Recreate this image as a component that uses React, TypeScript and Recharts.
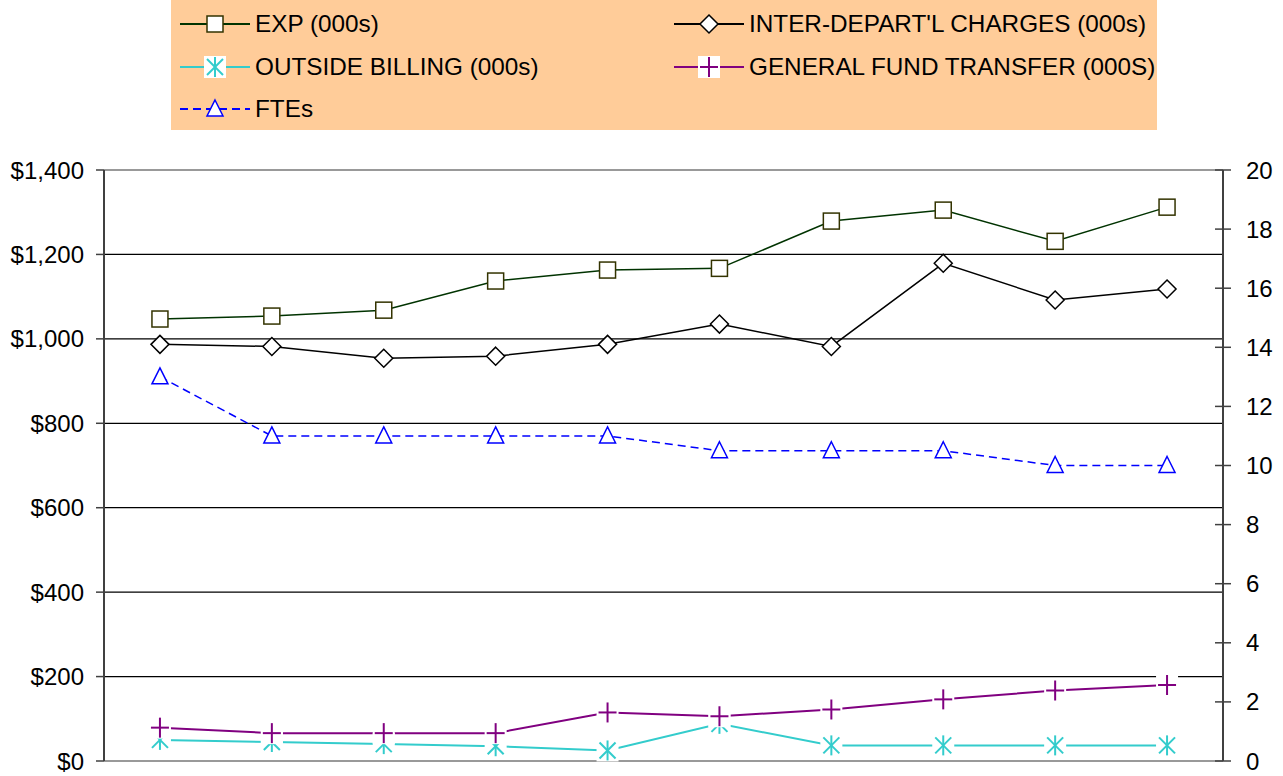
import React from 'react';
import { LineChart, Line, XAxis, YAxis, ReferenceLine } from 'recharts';

const categories = ['1', '2', '3', '4', '5', '6', '7', '8', '9', '10'];
const expValues = [1047, 1054, 1068, 1137, 1163, 1167, 1279, 1305, 1231, 1312];
const interDeptValues = [987, 982, 954, 959, 987, 1035, 982, 1179, 1092, 1118];
const outsideBillingValues = [50, 45, 40, 35, 25, 88, 37, 37, 37, 37];
const generalFundValues = [79, 66, 66, 66, 115, 106, 122, 146, 167, 180];
const fteValues = [13, 11, 11, 11, 11, 10.5, 10.5, 10.5, 10, 10];

const leftTicks = [0, 200, 400, 600, 800, 1000, 1200, 1400];
const rightTicks = [0, 2, 4, 6, 8, 10, 12, 14, 16, 18, 20];
const gridValues = [200, 400, 600, 800, 1000, 1200];

const seriesNames = {
  exp: 'EXP (000s)',
  inter: "INTER-DEPART'L CHARGES (000s)",
  outside: 'OUTSIDE BILLING (000s)',
  general: 'GENERAL FUND TRANSFER (000S)',
  fte: 'FTEs',
};

const data = categories.map((c, i) => ({
  cat: c,
  exp: expValues[i],
  inter: interDeptValues[i],
  outside: outsideBillingValues[i],
  general: generalFundValues[i],
  fte: fteValues[i],
}));

const FONT = '"Liberation Sans", Arial, sans-serif';
const C_EXP_LINE = '#003300';
const C_EXP_MARK = '#333300';
const C_OUT = '#33CCCC';
const C_GEN = '#800080';
const C_FTE = '#0000FF';

const SquareMark = ({ cx, cy }: any) => (
  <rect x={cx - 8} y={cy - 8} width={16} height={16} fill="#fff" stroke={C_EXP_MARK} strokeWidth={1.5} />
);
const DiamondMark = ({ cx, cy }: any) => (
  <path d={`M${cx},${cy - 9} L${cx + 9},${cy} L${cx},${cy + 9} L${cx - 9},${cy} Z`} fill="#fff" stroke="#000" strokeWidth={1.5} />
);
const StarMark = ({ cx, cy }: any) => (
  <g>
    <rect x={cx - 11} y={cy - 11} width={22} height={22} fill="#fff" />
    <line x1={cx} y1={cy - 10} x2={cx} y2={cy + 10} stroke={C_OUT} strokeWidth={2} />
    <line x1={cx - 8} y1={cy - 8} x2={cx + 8} y2={cy + 8} stroke={C_OUT} strokeWidth={2} />
    <line x1={cx - 8} y1={cy + 8} x2={cx + 8} y2={cy - 8} stroke={C_OUT} strokeWidth={2} />
  </g>
);
const PlusMark = ({ cx, cy }: any) => (
  <g>
    <rect x={cx - 11} y={cy - 11} width={22} height={22} fill="#fff" />
    <line x1={cx} y1={cy - 10} x2={cx} y2={cy + 10} stroke={C_GEN} strokeWidth={2} />
    <line x1={cx - 9} y1={cy} x2={cx + 9} y2={cy} stroke={C_GEN} strokeWidth={2} />
  </g>
);
const TriangleMark = ({ cx, cy }: any) => (
  <path d={`M${cx},${cy - 9} L${cx + 8},${cy + 7} L${cx - 8},${cy + 7} Z`} fill="#fff" stroke={C_FTE} strokeWidth={1.5} />
);

const dot = (Comp: any) => (props: any) => {
  const { cx, cy, index } = props;
  if (cx == null || cy == null) return <g key={`d${index}`} />;
  return <g key={`d${index}`}><Comp cx={cx} cy={cy} /></g>;
};

const RightTick = (props: any) => {
  const { x, y, payload } = props;
  const ax = x - 21;
  return (
    <g>
      <line x1={ax - 8} x2={ax + 8} y1={y} y2={y} stroke="#404040" strokeWidth={1.5} />
      <text x={x + 2} y={y} dy="0.355em" textAnchor="start" fontSize={24} fontFamily={FONT} fill="#000">
        {payload.value}
      </text>
    </g>
  );
};

const legendItems = [
  { key: 'exp', col: 0, row: 0, color: C_EXP_LINE, dash: undefined, Mark: SquareMark },
  { key: 'inter', col: 1, row: 0, color: '#000', dash: undefined, Mark: DiamondMark },
  { key: 'outside', col: 0, row: 1, color: C_OUT, dash: undefined, Mark: StarMark },
  { key: 'general', col: 1, row: 1, color: C_GEN, dash: undefined, Mark: PlusMark },
  { key: 'fte', col: 0, row: 2, color: C_FTE, dash: '8 5', Mark: TriangleMark },
];

const LegendBox = () => (
  <div style={{ position: 'absolute', left: 171, top: 0, width: 986, height: 130, background: '#FFCC99', fontFamily: FONT }}>
    {legendItems.map((it) => {
      const left = it.col === 0 ? 9 : 503;
      const top = [24, 67, 109][it.row];
      return (
        <div key={it.key} style={{ position: 'absolute', left, top: top - 15, height: 30, display: 'flex', alignItems: 'center', whiteSpace: 'nowrap' }}>
          <svg width={70} height={30} style={{ display: 'block' }}>
            <line x1={0} x2={70} y1={15} y2={15} stroke={it.color} strokeWidth={2} strokeDasharray={it.dash} />
            <it.Mark cx={35} cy={15} />
          </svg>
          <span style={{ marginLeft: 5, fontSize: 24.3, color: '#000', lineHeight: '30px' }}>
            {(seriesNames as any)[it.key]}
          </span>
        </div>
      );
    })}
  </div>
);

export default function App() {
  return (
    <div style={{ position: 'absolute', left: 0, top: 0, width: 1283, height: 776, background: '#fff' }}>
      <LineChart width={1283} height={776} data={data} margin={{ top: 170, right: 0, bottom: 14, left: 0 }}>
        <XAxis dataKey="cat" scale="band" tick={false} tickLine={false} height={1} axisLine={{ stroke: '#999999', strokeWidth: 2 }} />
        <YAxis
          yAxisId="left"
          orientation="left"
          width={104}
          domain={[0, 1400]}
          ticks={leftTicks}
          interval={0}
          tickSize={8}
          tickMargin={12}
          axisLine={{ stroke: '#404040', strokeWidth: 2 }}
          tickLine={{ stroke: '#404040', strokeWidth: 1.5 }}
          tick={{ fontSize: 24, fontFamily: FONT, fill: '#000' }}
          tickFormatter={(v: number) => `$${v.toLocaleString('en-US')}`}
        />
        <YAxis
          yAxisId="right"
          orientation="right"
          width={60}
          domain={[0, 20]}
          ticks={rightTicks}
          interval={0}
          tickSize={8}
          tickMargin={13}
          axisLine={{ stroke: '#404040', strokeWidth: 2 }}
          tickLine={false}
          tick={<RightTick />}
        />
        {gridValues.map((v) => (
          <ReferenceLine key={v} yAxisId="left" y={v} stroke="#000" strokeWidth={1.3} />
        ))}
        <ReferenceLine yAxisId="left" y={1400} stroke="#999999" strokeWidth={2} />
        <Line yAxisId="left" dataKey="exp" name={seriesNames.exp} stroke={C_EXP_LINE} strokeWidth={1.5} dot={dot(SquareMark)} activeDot={false} isAnimationActive={false} />
        <Line yAxisId="left" dataKey="inter" name={seriesNames.inter} stroke="#000" strokeWidth={1.5} dot={dot(DiamondMark)} activeDot={false} isAnimationActive={false} />
        <Line yAxisId="left" dataKey="outside" name={seriesNames.outside} stroke={C_OUT} strokeWidth={2} dot={dot(StarMark)} activeDot={false} isAnimationActive={false} />
        <Line yAxisId="left" dataKey="general" name={seriesNames.general} stroke={C_GEN} strokeWidth={2} dot={dot(PlusMark)} activeDot={false} isAnimationActive={false} />
        <Line yAxisId="right" dataKey="fte" name={seriesNames.fte} stroke={C_FTE} strokeWidth={1.5} strokeDasharray="8 5" dot={dot(TriangleMark)} activeDot={false} isAnimationActive={false} />
      </LineChart>
      <LegendBox />
    </div>
  );
}
